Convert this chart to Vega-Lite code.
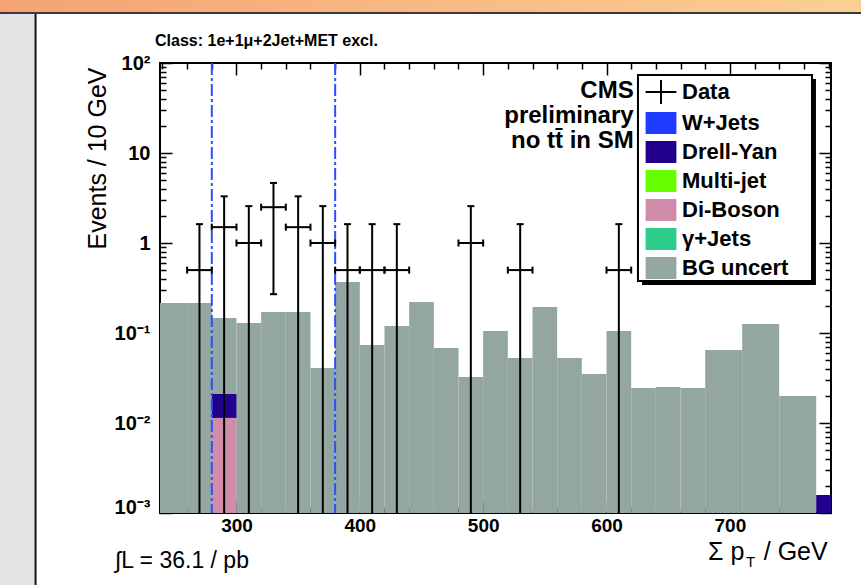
{
  "$schema": "https://vega.github.io/schema/vega-lite/v6.json",
  "width": 671,
  "height": 450,
  "autosize": {"type": "none"},
  "padding": {"left": 160, "top": 63, "right": 30, "bottom": 72},
  "background": "white",
  "config": {
    "view": {"stroke": "black", "strokeWidth": 2, "fill": "white"},
    "axis": {"domain": false, "grid": false, "tickColor": "black", "tickWidth": 1.5, "labelFlush": false, "labelOverlap": false, "labelColor": "black", "labelFont": "Liberation Sans", "labelFontWeight": "bold", "titleColor": "black"}
  },
  "datasets": {
    "bg": [
      {"lo": 230, "hi": 260, "v": 0.215},
      {"lo": 260, "hi": 280, "v": 0.215},
      {"lo": 280, "hi": 300, "v": 0.147},
      {"lo": 300, "hi": 320, "v": 0.129},
      {"lo": 320, "hi": 340, "v": 0.171},
      {"lo": 340, "hi": 360, "v": 0.171},
      {"lo": 360, "hi": 380, "v": 0.0408},
      {"lo": 380, "hi": 400, "v": 0.369},
      {"lo": 400, "hi": 420, "v": 0.0736},
      {"lo": 420, "hi": 440, "v": 0.1197},
      {"lo": 440, "hi": 460, "v": 0.221},
      {"lo": 460, "hi": 480, "v": 0.0681},
      {"lo": 480, "hi": 500, "v": 0.0324},
      {"lo": 500, "hi": 520, "v": 0.105},
      {"lo": 520, "hi": 540, "v": 0.0528},
      {"lo": 540, "hi": 560, "v": 0.1945},
      {"lo": 560, "hi": 580, "v": 0.0528},
      {"lo": 580, "hi": 600, "v": 0.035},
      {"lo": 600, "hi": 620, "v": 0.105},
      {"lo": 620, "hi": 640, "v": 0.0245},
      {"lo": 640, "hi": 660, "v": 0.0251},
      {"lo": 660, "hi": 680, "v": 0.0245},
      {"lo": 680, "hi": 710, "v": 0.0647},
      {"lo": 710, "hi": 740, "v": 0.126},
      {"lo": 740, "hi": 770, "v": 0.02}
    ],
    "stack": [
      {"comp": "Di-Boson", "lo": 280, "hi": 300, "base": 0.0009, "top": 0.0114},
      {"comp": "Drell-Yan", "lo": 280, "hi": 300, "base": 0.0114, "top": 0.021},
      {"comp": "Drell-Yan", "lo": 770, "hi": 800, "base": 0.0009, "top": 0.00158}
    ],
    "cuts": [{"cut": 280}, {"cut": 380}],
    "notes": [
      {"line": "CMS", "val": 40.8},
      {"line": "preliminary", "val": 21.5},
      {"line": "no tt\u0304 in SM", "val": 11.3}
    ],
    "pts": [
      {"x": 270, "xlo": 260, "xhi": 280, "y": 0.5, "ylo": 0.001, "yhi": 1.62},
      {"x": 290, "xlo": 280, "xhi": 300, "y": 1.5, "ylo": 0.001, "yhi": 3.3},
      {"x": 310, "xlo": 300, "xhi": 320, "y": 1.0, "ylo": 0.001, "yhi": 2.57},
      {"x": 330, "xlo": 320, "xhi": 340, "y": 2.5, "ylo": 0.27, "yhi": 4.65},
      {"x": 350, "xlo": 340, "xhi": 360, "y": 1.5, "ylo": 0.001, "yhi": 3.3},
      {"x": 370, "xlo": 360, "xhi": 380, "y": 1.0, "ylo": 0.001, "yhi": 2.57},
      {"x": 390, "xlo": 380, "xhi": 400, "y": 0.5, "ylo": 0.001, "yhi": 1.62},
      {"x": 410, "xlo": 400, "xhi": 420, "y": 0.5, "ylo": 0.001, "yhi": 1.62},
      {"x": 430, "xlo": 420, "xhi": 440, "y": 0.5, "ylo": 0.001, "yhi": 1.62},
      {"x": 490, "xlo": 480, "xhi": 500, "y": 1.0, "ylo": 0.001, "yhi": 2.57},
      {"x": 530, "xlo": 520, "xhi": 540, "y": 0.5, "ylo": 0.001, "yhi": 1.62},
      {"x": 610, "xlo": 600, "xhi": 620, "y": 0.5, "ylo": 0.001, "yhi": 1.62}
    ]
  },
  "layer": [
    {
      "data": {"values": [{}]},
      "mark": {"type": "rect", "clip": false, "color": {"gradient": "linear", "x1": 0, "y1": 0, "x2": 1, "y2": 0, "stops": [{"offset": 0, "color": "#f5a272"}, {"offset": 1, "color": "#fbd094"}]}},
      "encoding": {
        "x": {"datum": 100, "type": "quantitative", "scale": {"domain": [238, 782], "nice": false, "zero": false}, "axis": null},
        "x2": {"datum": 820},
        "y": {"datum": 600, "type": "quantitative", "scale": {"type": "log", "domain": [0.001, 100], "nice": false}, "axis": null},
        "y2": {"datum": 368.6}
      }
    },
    {
      "data": {"values": [{}]},
      "mark": {"type": "rect", "clip": false, "color": "#3a3a3a"},
      "encoding": {
        "x": {"datum": 100, "type": "quantitative", "scale": {"domain": [238, 782], "nice": false, "zero": false}, "axis": null},
        "x2": {"datum": 820},
        "y": {"datum": 368.6, "type": "quantitative", "scale": {"type": "log", "domain": [0.001, 100], "nice": false}, "axis": null},
        "y2": {"datum": 350.4}
      }
    },
    {
      "data": {"values": [{}]},
      "mark": {"type": "rect", "clip": false, "color": "#e4e4e4"},
      "encoding": {
        "x": {"datum": 100, "type": "quantitative", "scale": {"domain": [238, 782], "nice": false, "zero": false}, "axis": null},
        "x2": {"datum": 136.3},
        "y": {"datum": 350.4, "type": "quantitative", "scale": {"type": "log", "domain": [0.001, 100], "nice": false}, "axis": null},
        "y2": {"datum": 0.0001}
      }
    },
    {
      "data": {"values": [{}]},
      "mark": {"type": "rect", "clip": false, "color": "#111111"},
      "encoding": {
        "x": {"datum": 136.3, "type": "quantitative", "scale": {"domain": [238, 782], "nice": false, "zero": false}, "axis": null},
        "x2": {"datum": 137.9},
        "y": {"datum": 350.4, "type": "quantitative", "scale": {"type": "log", "domain": [0.001, 100], "nice": false}, "axis": null},
        "y2": {"datum": 0.0001}
      }
    },
    {
      "data": {"values": [{}]},
      "mark": {"type": "text", "clip": false, "text": "Class: 1e+1μ+2Jet+MET excl.", "align": "left", "baseline": "alphabetic", "font": "Liberation Sans", "fontWeight": "bold", "fontSize": 16, "color": "black"},
      "encoding": {
        "x": {"datum": 234, "type": "quantitative", "scale": {"domain": [238, 782], "nice": false, "zero": false}, "axis": null},
        "y": {"datum": 154.5, "type": "quantitative", "scale": {"type": "log", "domain": [0.001, 100], "nice": false}, "axis": null}
      }
    },
    {
      "data": {"name": "bg"},
      "mark": {"type": "rect", "clip": true, "color": "#94a6a2"},
      "encoding": {
        "x": {"field": "lo", "type": "quantitative", "scale": {"domain": [238, 782], "nice": false, "zero": false}, "axis": null},
        "x2": {"field": "hi"},
        "y": {"field": "v", "type": "quantitative", "scale": {"type": "log", "domain": [0.001, 100], "nice": false}, "axis": null},
        "y2": {"datum": 0.0009}
      }
    },
    {
      "data": {"name": "stack"},
      "transform": [{"filter": "datum.comp == 'Di-Boson'"}],
      "mark": {"type": "rect", "clip": true, "color": "#d18caa"},
      "encoding": {
        "x": {"field": "lo", "type": "quantitative", "scale": {"domain": [238, 782], "nice": false, "zero": false}, "axis": null},
        "x2": {"field": "hi"},
        "y": {"field": "top", "type": "quantitative", "scale": {"type": "log", "domain": [0.001, 100], "nice": false}, "axis": null},
        "y2": {"field": "base"}
      }
    },
    {
      "data": {"name": "stack"},
      "transform": [{"filter": "datum.comp == 'Drell-Yan'"}],
      "mark": {"type": "rect", "clip": true, "color": "#22008c"},
      "encoding": {
        "x": {"field": "lo", "type": "quantitative", "scale": {"domain": [238, 782], "nice": false, "zero": false}, "axis": null},
        "x2": {"field": "hi"},
        "y": {"field": "top", "type": "quantitative", "scale": {"type": "log", "domain": [0.001, 100], "nice": false}, "axis": null},
        "y2": {"field": "base"}
      }
    },
    {
      "data": {"name": "cuts"},
      "mark": {"type": "rule", "color": "#2a50ff", "strokeWidth": 2, "strokeDash": [12, 3, 3, 3]},
      "encoding": {
        "x": {"field": "cut", "type": "quantitative", "scale": {"domain": [238, 782], "nice": false, "zero": false},
          "axis": {"orient": "top", "title": null, "labels": false, "values": [240,260,280,300,320,340,360,380,400,420,440,460,480,500,520,540,560,580,600,620,640,660,680,700,720,740,760,780],
            "tickSize": {"condition": {"test": "datum.value % 100 === 0", "value": -12}, "value": -6}}}
      }
    },
    {
      "data": {"name": "pts"},
      "mark": {"type": "rule", "color": "black", "strokeWidth": 2},
      "encoding": {
        "x": {"field": "x", "type": "quantitative", "scale": {"domain": [238, 782], "nice": false, "zero": false}, "axis": null},
        "y": {"field": "ylo", "type": "quantitative", "scale": {"type": "log", "domain": [0.001, 100], "nice": false},
          "axis": {"orient": "left", "values": [0.001,0.002,0.003,0.004,0.005,0.006,0.007,0.008,0.009,0.01,0.02,0.03,0.04,0.05,0.06,0.07,0.08,0.09,0.1,0.2,0.3,0.4,0.5,0.6,0.7,0.8,0.9,1,2,3,4,5,6,7,8,9,10,20,30,40,50,60,70,80,90,100],
            "labelExpr": "datum.value == 100 ? '10²' : datum.value == 10 ? '10' : datum.value == 1 ? '1' : datum.value == 0.1 ? '10⁻¹' : datum.value == 0.01 ? '10⁻²' : datum.value == 0.001 ? '10⁻³' : ''",
            "tickSize": {"condition": {"test": "indexof([0.001,0.01,0.1,1,10,100], datum.value) >= 0", "value": -12}, "value": -6},
            "labelBaseline": {"condition": {"test": "datum.value == 0.001", "value": "alphabetic"}, "value": "middle"},
            "labelAlign": "right", "labelPadding": 22, "labelFontSize": 20,
            "title": "Events / 10 GeV", "titleFont": "Liberation Sans", "titleFontSize": 25, "titleFontWeight": "normal",
            "titleAngle": 270, "titleAlign": "right", "titleBaseline": "alphabetic", "titleX": -55, "titleY": 4}},
        "y2": {"field": "yhi"}
      }
    },
    {
      "data": {"name": "pts"},
      "mark": {"type": "rule", "color": "black", "strokeWidth": 2},
      "encoding": {
        "x": {"field": "xlo", "type": "quantitative", "scale": {"domain": [238, 782], "nice": false, "zero": false},
          "axis": {"orient": "bottom", "title": null, "format": "d", "values": [240,260,280,300,320,340,360,380,400,420,440,460,480,500,520,540,560,580,600,620,640,660,680,700,720,740,760,780],
            "labelExpr": "datum.value % 100 === 0 ? datum.label : ''",
            "tickSize": {"condition": {"test": "datum.value % 100 === 0", "value": -12}, "value": -6},
            "labelPadding": 15, "labelFontSize": 19, "labelBaseline": "top"}},
        "x2": {"field": "xhi"},
        "y": {"field": "y", "type": "quantitative", "scale": {"type": "log", "domain": [0.001, 100], "nice": false}, "axis": null}
      }
    },
    {
      "data": {"name": "pts"},
      "mark": {"type": "tick", "orient": "horizontal", "color": "black", "size": 7, "thickness": 2, "opacity": 1},
      "encoding": {
        "x": {"field": "x", "type": "quantitative", "scale": {"domain": [238, 782], "nice": false, "zero": false}, "axis": null},
        "y": {"field": "yhi", "type": "quantitative", "scale": {"type": "log", "domain": [0.001, 100], "nice": false},
          "axis": {"orient": "right", "title": null, "labels": false, "values": [0.001,0.002,0.003,0.004,0.005,0.006,0.007,0.008,0.009,0.01,0.02,0.03,0.04,0.05,0.06,0.07,0.08,0.09,0.1,0.2,0.3,0.4,0.5,0.6,0.7,0.8,0.9,1,2,3,4,5,6,7,8,9,10,20,30,40,50,60,70,80,90,100],
            "tickSize": {"condition": {"test": "indexof([0.001,0.01,0.1,1,10,100], datum.value) >= 0", "value": -12}, "value": -6}}}
      }
    },
    {
      "data": {"name": "pts"},
      "transform": [{"filter": "datum.ylo > 0.001"}],
      "mark": {"type": "tick", "orient": "horizontal", "color": "black", "size": 7, "thickness": 2, "opacity": 1},
      "encoding": {
        "x": {"field": "x", "type": "quantitative", "scale": {"domain": [238, 782], "nice": false, "zero": false}, "axis": null},
        "y": {"field": "ylo", "type": "quantitative", "scale": {"type": "log", "domain": [0.001, 100], "nice": false}, "axis": null}
      }
    },
    {
      "data": {"name": "pts"},
      "mark": {"type": "tick", "orient": "vertical", "color": "black", "size": 7, "thickness": 2, "opacity": 1},
      "encoding": {
        "x": {"field": "xlo", "type": "quantitative", "scale": {"domain": [238, 782], "nice": false, "zero": false}, "axis": null},
        "y": {"field": "y", "type": "quantitative", "scale": {"type": "log", "domain": [0.001, 100], "nice": false}, "axis": null}
      }
    },
    {
      "data": {"name": "pts"},
      "mark": {"type": "tick", "orient": "vertical", "color": "black", "size": 7, "thickness": 2, "opacity": 1},
      "encoding": {
        "x": {"field": "xhi", "type": "quantitative", "scale": {"domain": [238, 782], "nice": false, "zero": false}, "axis": null},
        "y": {"field": "y", "type": "quantitative", "scale": {"type": "log", "domain": [0.001, 100], "nice": false}, "axis": null}
      }
    },
    {
      "data": {"name": "notes"},
      "mark": {"type": "text", "clip": false, "align": "right", "baseline": "alphabetic", "font": "Liberation Sans", "fontWeight": "bold", "fontSize": 24, "color": "black"},
      "encoding": {
        "x": {"datum": 622, "type": "quantitative", "scale": {"domain": [238, 782], "nice": false, "zero": false}, "axis": null},
        "y": {"field": "val", "type": "quantitative", "scale": {"type": "log", "domain": [0.001, 100], "nice": false}, "axis": null},
        "text": {"field": "line", "type": "nominal"}
      }
    },
    {
      "data": {"values": [{}]},
      "mark": {"type": "text", "clip": false, "text": "∫L = 36.1 / pb", "align": "left", "baseline": "alphabetic", "dy": 55, "font": "Liberation Sans", "fontSize": 23, "color": "black"},
      "encoding": {
        "x": {"datum": 201.5, "type": "quantitative", "scale": {"domain": [238, 782], "nice": false, "zero": false}, "axis": null},
        "y": {"datum": 0.001, "type": "quantitative", "scale": {"type": "log", "domain": [0.001, 100], "nice": false}, "axis": null}
      }
    },
    {
      "data": {"values": [{}]},
      "mark": {"type": "text", "clip": false, "text": "Σ p", "align": "left", "baseline": "alphabetic", "dy": 47, "font": "Liberation Sans", "fontSize": 25, "color": "black"},
      "encoding": {
        "x": {"datum": 682.3, "type": "quantitative", "scale": {"domain": [238, 782], "nice": false, "zero": false}, "axis": null},
        "y": {"datum": 0.001, "type": "quantitative", "scale": {"type": "log", "domain": [0.001, 100], "nice": false}, "axis": null}
      }
    },
    {
      "data": {"values": [{}]},
      "mark": {"type": "text", "clip": false, "text": "T", "align": "left", "baseline": "alphabetic", "dy": 54, "font": "Liberation Sans", "fontSize": 15, "color": "black"},
      "encoding": {
        "x": {"datum": 713.1, "type": "quantitative", "scale": {"domain": [238, 782], "nice": false, "zero": false}, "axis": null},
        "y": {"datum": 0.001, "type": "quantitative", "scale": {"type": "log", "domain": [0.001, 100], "nice": false}, "axis": null}
      }
    },
    {
      "data": {"values": [{}]},
      "mark": {"type": "text", "clip": false, "text": "/ GeV", "align": "left", "baseline": "alphabetic", "dy": 47, "font": "Liberation Sans", "fontSize": 25, "color": "black"},
      "encoding": {
        "x": {"datum": 727.5, "type": "quantitative", "scale": {"domain": [238, 782], "nice": false, "zero": false}, "axis": null},
        "y": {"datum": 0.001, "type": "quantitative", "scale": {"type": "log", "domain": [0.001, 100], "nice": false}, "axis": null}
      }
    },
    {
      "data": {"values": [{}]},
      "mark": {"type": "rect", "clip": false, "color": "black"},
      "encoding": {
        "x": {"datum": 628.8, "type": "quantitative", "scale": {"domain": [238, 782], "nice": false, "zero": false}, "axis": null},
        "x2": {"datum": 769.8},
        "y": {"datum": 66.4, "type": "quantitative", "scale": {"type": "log", "domain": [0.001, 100], "nice": false}, "axis": null},
        "y2": {"datum": 0.3415}
      }
    },
    {
      "data": {"values": [{}]},
      "mark": {"type": "rect", "clip": false, "fill": "white", "stroke": "black", "strokeWidth": 2},
      "encoding": {
        "x": {"datum": 625.5, "type": "quantitative", "scale": {"domain": [238, 782], "nice": false, "zero": false}, "axis": null},
        "x2": {"datum": 766.6},
        "y": {"datum": 73.56, "type": "quantitative", "scale": {"type": "log", "domain": [0.001, 100], "nice": false}, "axis": null},
        "y2": {"datum": 0.3784}
      }
    },
    {
      "data": {"name": "stack"},
      "transform": [{"filter": "false"}],
      "mark": {"type": "point", "filled": true, "opacity": 1},
      "encoding": {
        "color": {"field": "comp", "type": "nominal",
          "scale": {"domain": ["Data", "W+Jets", "Drell-Yan", "Multi-jet", "Di-Boson", "γ+Jets", "BG uncert"], "range": ["black", "#1e3cff", "#22008c", "#66ff00", "#d18caa", "#2ecc8c", "#94a6a2"]},
          "legend": {"title": null, "orient": "none", "legendX": 478, "legendY": 12, "padding": 6,
            "labelFont": "Liberation Sans", "labelFontSize": 22, "labelFontWeight": "bold", "labelColor": "black", "labelBaseline": "middle",
            "symbolSize": 484, "symbolStrokeWidth": 0, "symbolOffset": 6, "labelOffset": 10, "rowPadding": 7, "labelLimit": 400}},
        "shape": {"field": "comp", "type": "nominal",
          "scale": {"domain": ["Data", "W+Jets", "Drell-Yan", "Multi-jet", "Di-Boson", "γ+Jets", "BG uncert"],
            "range": ["M-1.4,-0.09H1.4V0.09H-1.4Z M-0.09,-1.1H0.09V1.1H-0.09Z", "M-1.4,-1H1.4V1H-1.4Z", "M-1.4,-1H1.4V1H-1.4Z", "M-1.4,-1H1.4V1H-1.4Z", "M-1.4,-1H1.4V1H-1.4Z", "M-1.4,-1H1.4V1H-1.4Z", "M-1.4,-1H1.4V1H-1.4Z"]},
          "legend": {"title": null, "orient": "none", "legendX": 478, "legendY": 12, "padding": 6,
            "labelFont": "Liberation Sans", "labelFontSize": 22, "labelFontWeight": "bold", "labelColor": "black", "labelBaseline": "middle",
            "symbolSize": 484, "symbolStrokeWidth": 0, "symbolOffset": 6, "labelOffset": 10, "rowPadding": 7, "labelLimit": 400}}
      }
    }
  ]
}
